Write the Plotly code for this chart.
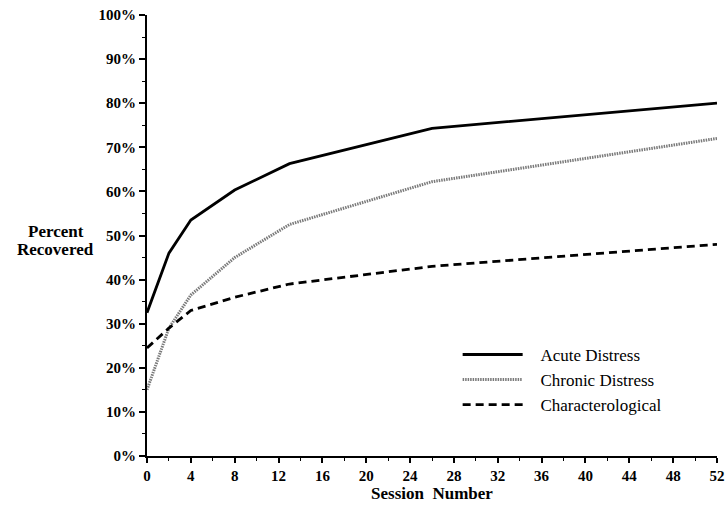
import plotly.graph_objects as go

sessions = [0, 2, 4, 8, 13, 26, 52]
acute = [32.5, 46, 53.5, 60.3, 66.3, 74.3, 80]
chronic = [15, 29, 36.5, 45, 52.5, 62.2, 72]
characterological = [24.5, 29, 33, 36, 39, 43, 48]

series_names = ["Acute Distress", "Chronic Distress", "Characterological"]

x_ticks = list(range(0, 53, 4))
y_ticks = list(range(0, 101, 10))
y_labels = [f"{v}%" for v in y_ticks]

pad = "\u00a0\u00a0\u00a0"

fig = go.Figure()
fig.add_trace(go.Scatter(x=sessions, y=acute, mode="lines", name=pad + series_names[0],
                         line=dict(color="black", width=2.8)))
fig.add_trace(go.Scatter(x=sessions, y=chronic, mode="lines", name=pad + series_names[1],
                         line=dict(color="#7a7a7a", width=3, dash="1.5px,1px")))
fig.add_trace(go.Scatter(x=sessions, y=characterological, mode="lines", name=pad + series_names[2],
                         line=dict(color="black", width=2.8, dash="8px,5px")))

fig.update_layout(
    width=725, height=512,
    margin=dict(l=147, r=8, t=15, b=56),
    plot_bgcolor="white", paper_bgcolor="white",
    showlegend=True,
    legend=dict(x=0.545, y=0.27, xanchor="left", yanchor="top",
                font=dict(family="Liberation Serif", size=17, color="black"),
                bgcolor="rgba(0,0,0,0)", tracegroupgap=0, itemwidth=60),
    xaxis=dict(range=[0, 52], tickvals=x_ticks, ticktext=[str(v) for v in x_ticks],
               showgrid=False, zeroline=False, showline=True, linecolor="black", linewidth=2,
               ticks="outside", ticklen=5, tickwidth=1.5, tickcolor="black", automargin=False,
               tickfont=dict(family="Liberation Serif", size=15, color="black", weight="bold"),
               minor=dict(dtick=2, ticks="outside", ticklen=3, tickcolor="black", tickwidth=1.2),
               title=dict(text="<b>Session  Number</b>", font=dict(family="Liberation Serif", size=17, color="black"), standoff=4),
               fixedrange=True),
    yaxis=dict(range=[0, 100], tickvals=y_ticks, ticktext=y_labels,
               showgrid=False, zeroline=False, showline=True, linecolor="black", linewidth=2,
               ticks="outside", ticklen=6, tickwidth=1.5, tickcolor="black", automargin=False,
               tickfont=dict(family="Liberation Serif", size=15, color="black", weight="bold"),
               minor=dict(dtick=5, ticks="outside", ticklen=3, tickcolor="black", tickwidth=1.2),
               fixedrange=True),
)

fig.add_annotation(text="<b>Percent</b>", xref="paper", yref="paper",
                   x=-0.16, y=0.508, xanchor="center", yanchor="middle", showarrow=False,
                   font=dict(family="Liberation Serif", size=17, color="black"))
fig.add_annotation(text="<b>Recovered</b>", xref="paper", yref="paper",
                   x=-0.16, y=0.468, xanchor="center", yanchor="middle", showarrow=False,
                   font=dict(family="Liberation Serif", size=17, color="black"))

fig.write_html("out.html")
